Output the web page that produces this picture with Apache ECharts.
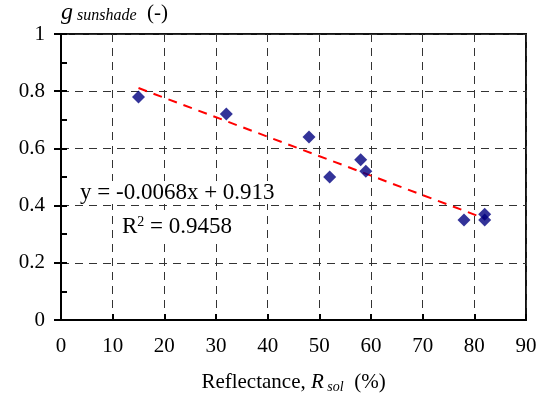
<!DOCTYPE html>
<html>
<head>
<meta charset="utf-8">
<script src="https://cdn.jsdelivr.net/npm/echarts@6/dist/echarts.min.js"></script>
<style>html,body{margin:0;padding:0;background:#fff}#c{width:544px;height:398px}</style>
</head>
<body>
<div id="c"></div>
<script>
var reflectance = [15, 32, 48, 52, 58, 59, 78, 82, 82];
var gSunshade   = [0.78, 0.72, 0.64, 0.50, 0.56, 0.52, 0.35, 0.37, 0.35];
var trendX = [15, 82];
var trendY = [0.811, 0.355];
var equationText = 'y = -0.0068x + 0.913';
var r2Text = '0.9458';

var FONT = '"Liberation Serif", "Times New Roman", serif';
var chart = echarts.init(document.getElementById('c'));
chart.setOption({
  animation: false,
  backgroundColor: '#fff',
  grid: { left: 61, right: 18, top: 34, bottom: 78, show: true, borderColor: '#111', borderWidth: 2,
    backgroundColor: 'transparent', containLabel: false, outerBoundsMode: 'none' },
  xAxis: {
    type: 'value', min: 0, max: 90, interval: 10,
    name: '{n|Reflectance, }{i|R}{s| sol}{n|  (%)}',
    nameLocation: 'middle', nameGap: 50,
    nameTextStyle: {
      rich: {
        n: { fontFamily: FONT, fontSize: 21, color: '#000' },
        i: { fontFamily: FONT, fontSize: 21, fontStyle: 'italic', color: '#000' },
        s: { fontFamily: FONT, fontSize: 14, fontStyle: 'italic', color: '#000', padding: [10, 0, 0, 0] }
      }
    },
    axisLine: { lineStyle: { color: '#000', width: 2 } },
    axisTick: { inside: true, length: 6, lineStyle: { color: '#000', width: 2 } },
    axisLabel: { fontFamily: FONT, fontSize: 21, color: '#000', margin: 16 },
    splitLine: { show: true, lineStyle: { color: '#333', width: 1, type: [8, 6] } }
  },
  yAxis: [{
    type: 'value', min: 0, max: 1, interval: 0.2,
    name: '{g|g}{s| sunshade}{n|  (-)}',
    nameLocation: 'end', nameGap: 9,
    nameTextStyle: {
      align: 'left',
      rich: {
        g: { fontFamily: FONT, fontSize: 24, fontStyle: 'italic', color: '#000' },
        s: { fontFamily: FONT, fontSize: 16, fontStyle: 'italic', color: '#000', padding: [6, 0, 0, 0] },
        n: { fontFamily: FONT, fontSize: 21, color: '#000' }
      }
    },
    axisLine: { show: true, lineStyle: { color: '#000', width: 2 } },
    axisTick: { show: true, inside: false, length: 7, lineStyle: { color: '#000', width: 2 } },
    axisLabel: { fontFamily: FONT, fontSize: 21, color: '#000', margin: 16,
      formatter: function (v) { return String(Math.round(v * 10) / 10); } },
    splitLine: { show: true, lineStyle: { color: '#333', width: 1, type: [8, 6] } }
  }, {
    type: 'value', min: 0, max: 1, interval: 0.1, position: 'left', offset: 0,
    axisLine: { show: false },
    axisTick: { show: true, inside: true, length: 6, lineStyle: { color: '#000', width: 2 } },
    axisLabel: { show: false },
    splitLine: { show: false }
  }],
  series: [
    {
      type: 'line',
      data: trendX.map(function (x, i) { return [x, trendY[i]]; }),
      showSymbol: false, symbol: 'none',
      lineStyle: { color: '#ff0000', width: 2, type: [9, 7] },
      z: 3
    },
    {
      type: 'scatter',
      data: reflectance.map(function (x, i) { return [x, gSunshade[i]]; }),
      symbol: 'diamond', symbolSize: 13,
      itemStyle: { color: '#000080' },
      z: 4
    }
  ],
  graphic: [
    { type: 'text', left: 80, top: 181, z: 10,
      style: { text: equationText, fontFamily: FONT, fontSize: 23, fill: '#000', backgroundColor: '#fff' } },
    { type: 'text', left: 122, top: 215, z: 10,
      style: { text: '{n|R}{p|2}{n| = ' + r2Text + '}', fill: '#000', backgroundColor: '#fff',
        rich: { n: { fontFamily: FONT, fontSize: 23, fill: '#000' }, p: { fontFamily: FONT, fontSize: 14, padding: [0, 0, 10, 0], fill: '#000' } } } }
  ]
});
</script>
</body>
</html>
